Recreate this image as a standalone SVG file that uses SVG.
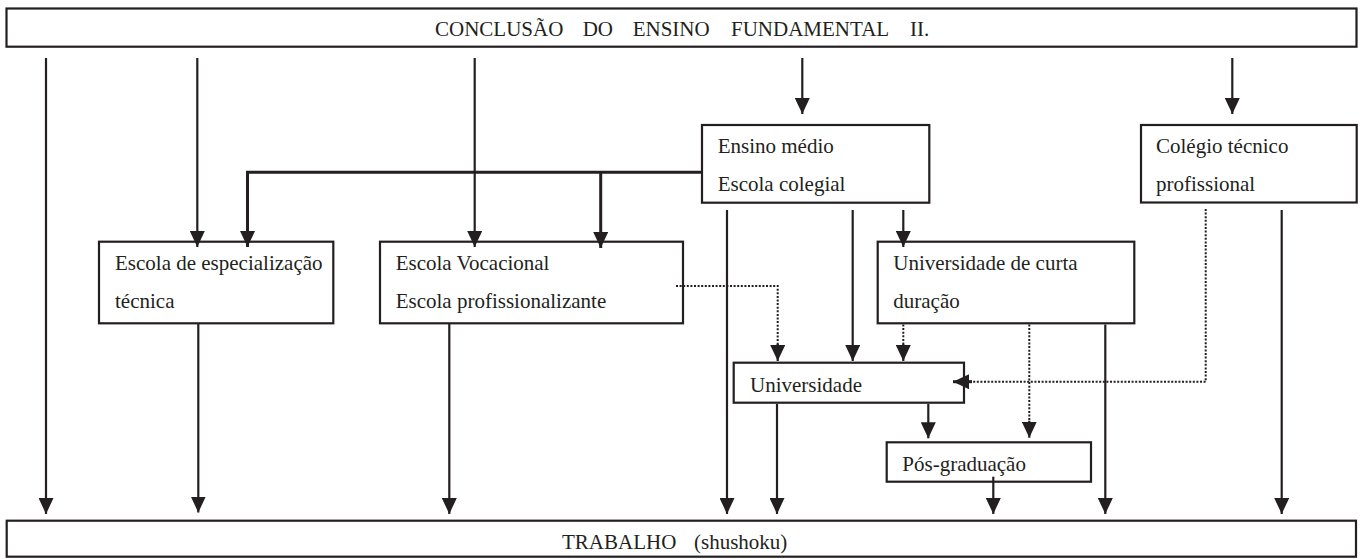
<svg xmlns="http://www.w3.org/2000/svg" width="1362" height="559" viewBox="0 0 1362 559" font-family="'Liberation Serif', 'Times New Roman', serif">
<defs>
<marker id="ah" markerUnits="userSpaceOnUse" markerWidth="16" markerHeight="15" refX="16" refY="7.5" orient="auto" viewBox="0 0 16 15">
<path d="M0,0 L16,7.5 L0,15 z" fill="#231f20"/>
</marker>
<style>
.box{fill:#fff;stroke:#231f20;stroke-width:2.2}
.t{font-family:'Liberation Serif','Times New Roman',serif;font-size:21px;fill:#231f20}
.c{fill:none;stroke:#231f20;stroke-width:2.2}
.k{fill:none;stroke:#231f20;stroke-width:3}
.d{fill:none;stroke:#231f20;stroke-width:2;stroke-dasharray:2 1.6}
.a{marker-end:url(#ah)}
</style>
</defs>
<rect width="1362" height="559" fill="#fff"/>
<g id="conclusao">
<rect class="box" x="6.5" y="8.5" width="1350" height="38.2"/>
<text class="t" y="36"><tspan x="435">CONCLUSÃO</tspan><tspan x="582.7">DO</tspan><tspan x="632.7">ENSINO</tspan><tspan x="731">FUNDAMENTAL</tspan><tspan x="910">II.</tspan></text>
</g>
<g id="ensino-medio">
<rect class="box" x="702" y="125" width="227.3" height="77.7"/>
<text class="t" x="717.7" y="153">Ensino médio</text>
<text class="t" x="717.7" y="191">Escola colegial</text>
</g>
<g id="colegio-tecnico">
<rect class="box" x="1141" y="125" width="215.7" height="77.5"/>
<text class="t" x="1156" y="153">Colégio técnico</text>
<text class="t" x="1156" y="191">profissional</text>
</g>
<g id="escola-especializacao">
<rect class="box" x="99" y="241.7" width="234.3" height="81.6"/>
<text class="t" x="115" y="270">Escola de especialização</text>
<text class="t" x="115" y="308">técnica</text>
</g>
<g id="escola-vocacional">
<rect class="box" x="380" y="241.7" width="303" height="81.6"/>
<text class="t" x="395.7" y="270">Escola Vocacional</text>
<text class="t" x="395.7" y="308">Escola profissionalizante</text>
</g>
<g id="universidade-curta">
<rect class="box" x="877.7" y="241.7" width="256.6" height="81.6"/>
<text class="t" x="893.3" y="270">Universidade de curta</text>
<text class="t" x="893.3" y="308">duração</text>
</g>
<g id="universidade">
<rect class="box" x="733.7" y="362.7" width="230.3" height="40"/>
<text class="t" x="750" y="391.7">Universidade</text>
</g>
<g id="pos-graduacao">
<rect class="box" x="886.7" y="442.3" width="204.3" height="39.4"/>
<text class="t" x="902.3" y="470.7">Pós-graduação</text>
</g>
<g id="trabalho">
<rect class="box" x="6.7" y="520.7" width="1349.3" height="36"/>
<text class="t" y="549.3"><tspan x="562">TRABALHO</tspan><tspan x="694">(shushoku)</tspan></text>
</g>
<g id="connectors">
<line class="c a" x1="46" y1="58" x2="46" y2="514"/>
<line class="c a" x1="197.3" y1="58" x2="197.3" y2="247"/>
<line class="c a" x1="474.7" y1="58" x2="474.7" y2="247"/>
<line class="c a" x1="802.3" y1="58" x2="802.3" y2="114"/>
<line class="c a" x1="1232.3" y1="58" x2="1232.3" y2="114"/>
<polyline class="k" points="702,172.3 247.5,172.3 247.5,235"/>
<line class="k a" x1="247.5" y1="172.3" x2="247.5" y2="247"/>
<line class="k a" x1="600.7" y1="172.3" x2="600.7" y2="248"/>
<line class="c a" x1="198.3" y1="323" x2="198.3" y2="512.5"/>
<line class="c a" x1="449.3" y1="323" x2="449.3" y2="514"/>
<line class="c a" x1="727" y1="210" x2="727" y2="514"/>
<line class="c a" x1="852.7" y1="210" x2="852.7" y2="361"/>
<line class="c a" x1="903.3" y1="210" x2="903.3" y2="247"/>
<polyline class="d" points="676,286 777.7,286 777.7,348"/>
<line class="c a" x1="777.7" y1="344" x2="777.7" y2="361"/>
<line class="d" x1="903.3" y1="324.5" x2="903.3" y2="348"/>
<line class="c a" x1="903.3" y1="344" x2="903.3" y2="361"/>
<line class="d" x1="1029.3" y1="324.5" x2="1029.3" y2="424"/>
<line class="c a" x1="1029.3" y1="420.7" x2="1029.3" y2="437.7"/>
<line class="c a" x1="1105.3" y1="324.5" x2="1105.3" y2="514"/>
<polyline class="d" points="1205.7,209 1205.7,381.7 968,381.7"/>
<line class="k a" x1="972" y1="381.7" x2="953" y2="381.7"/>
<line class="c a" x1="1281.7" y1="210" x2="1281.7" y2="514"/>
<line class="c a" x1="777" y1="404" x2="777" y2="514"/>
<line class="c a" x1="928.3" y1="404" x2="928.3" y2="438.3"/>
<line class="c a" x1="993.3" y1="476.7" x2="993.3" y2="514"/>
</g>
</svg>
